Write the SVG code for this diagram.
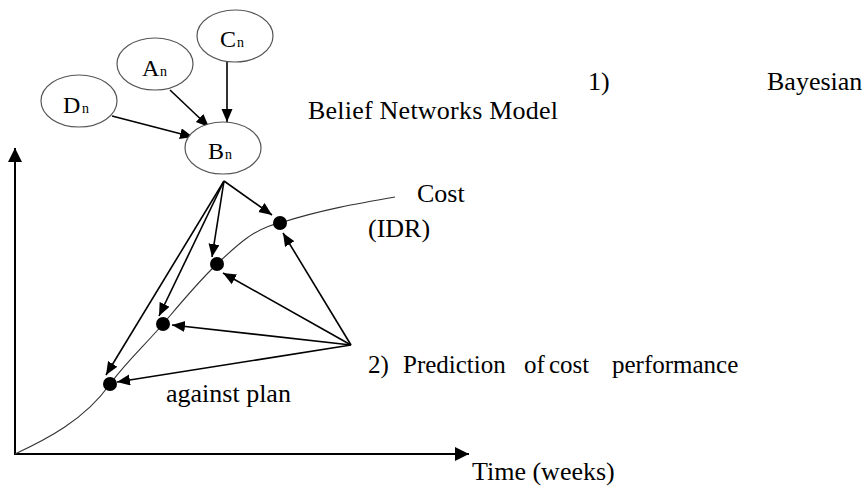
<svg xmlns="http://www.w3.org/2000/svg" width="865" height="492" viewBox="0 0 865 492">
<style>
  .node ellipse { fill: #ffffff; stroke: #555555; stroke-width: 1.2; }
  text { font-family: "Liberation Serif", "Times New Roman", "DejaVu Serif", serif; fill: #000; }
  .lbl { font-size: 24px; }
  .sub { font-size: 14px; }
  .txt { font-size: 26px; }
  .pred { font-size: 25px; }
  .arr { stroke: #000; stroke-width: 1.6; fill: none; marker-end: url(#ah); }
  .axis { stroke: #000; stroke-width: 2; fill: none; marker-end: url(#ahAxis); }
  .curve { stroke: #333; stroke-width: 1.1; fill: none; }
  .dot { fill: #000; }
</style>
<defs>
  <marker id="ah" markerUnits="userSpaceOnUse" markerWidth="14" markerHeight="12" refX="13" refY="5.5" orient="auto">
    <path d="M0,0 L13,5.5 L0,11 z" fill="#000"/>
  </marker>
  <marker id="ahAxis" markerUnits="userSpaceOnUse" markerWidth="15" markerHeight="15" refX="14" refY="7" orient="auto">
    <path d="M0,0 L14,7 L0,14 z" fill="#000"/>
  </marker>
</defs>
<rect width="865" height="492" fill="#ffffff"/>

<g id="axes">
  <line class="axis" x1="15" y1="455" x2="15" y2="148"/>
  <line class="axis" x1="15" y1="454" x2="469" y2="454"/>
</g>

<g id="cost-curve">
  <path class="curve" d="M15,454 C45,440 85,420 110,384 C128,360 145,345 163,324 C180,304 198,282 217,264 C237,245 255,228 280,223 C320,210 360,203 395,197"/>
</g>

<g id="connectors">
  <line class="arr" x1="227" y1="62" x2="227" y2="122"/>
  <line class="arr" x1="170" y1="90" x2="209" y2="127"/>
  <line class="arr" x1="112" y1="116" x2="193" y2="137"/>
  <line class="arr" x1="224" y1="181" x2="272" y2="215"/>
  <line class="arr" x1="224" y1="181" x2="212" y2="257"/>
  <line class="arr" x1="224" y1="181" x2="159" y2="316"/>
  <line class="arr" x1="224" y1="181" x2="106" y2="375"/>
  <line class="arr" x1="351" y1="345" x2="283" y2="233"/>
  <line class="arr" x1="351" y1="345" x2="223" y2="273"/>
  <line class="arr" x1="351" y1="345" x2="172" y2="325"/>
  <line class="arr" x1="351" y1="345" x2="117" y2="382"/>
</g>

<g id="points">
  <circle class="dot" cx="280" cy="223" r="7"/>
  <circle class="dot" cx="217" cy="264" r="7"/>
  <circle class="dot" cx="163" cy="324" r="7"/>
  <circle class="dot" cx="110" cy="384" r="7"/>
</g>

<g id="node-C" class="node">
  <ellipse cx="235" cy="36" rx="38" ry="26"/>
  <text class="lbl" x="220" y="47">C</text><text class="sub" x="237" y="47">n</text>
</g>
<g id="node-A" class="node">
  <ellipse cx="155" cy="64" rx="38" ry="26"/>
  <text class="lbl" x="142" y="76">A</text><text class="sub" x="160" y="76">n</text>
</g>
<g id="node-D" class="node">
  <ellipse cx="79" cy="101" rx="38" ry="26"/>
  <text class="lbl" x="63" y="113">D</text><text class="sub" x="82" y="113">n</text>
</g>
<g id="node-B" class="node">
  <ellipse cx="223" cy="148" rx="38" ry="26"/>
  <text class="lbl" x="208" y="159">B</text><text class="sub" x="225" y="159">n</text>
</g>

<g id="labels">
  <text class="txt" x="588" y="90">1)</text>
  <text class="txt" x="767" y="90">Bayesian</text>
  <text class="txt" x="308" y="119" textLength="250">Belief Networks Model</text>
  <text class="txt" x="417" y="202">Cost</text>
  <text class="txt" x="368" y="237">(IDR)</text>
  <text class="pred" x="368" y="373">2)</text>
  <text class="pred" x="403" y="373">Prediction</text>
  <text class="pred" x="524" y="373">of</text>
  <text class="pred" x="549" y="373">cost</text>
  <text class="pred" x="612" y="373">performance</text>
  <text class="txt" x="166" y="402">against plan</text>
  <text class="txt" x="472" y="480">Time (weeks)</text>
</g>
</svg>
